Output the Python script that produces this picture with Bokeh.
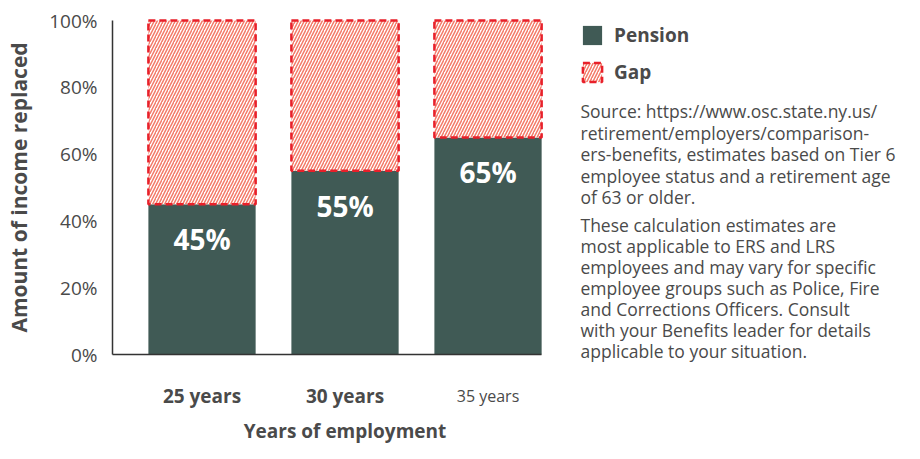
import math
from bokeh.plotting import figure
from bokeh.models import (Range1d, FixedTicker, Label, Legend, LegendItem,
                          ColumnDataSource, LinearAxis)
from bokeh.core.properties import value
from bokeh.embed import file_html
from bokeh.resources import INLINE

categories = ["25 years", "30 years", "35 years"]
pension = [45, 55, 65]
gap = [55, 45, 35]
y_ticks = [0, 20, 40, 60, 80, 100]
y_tick_labels = ["0%", "20%", "40%", "60%", "80%", "100%"]
series_names = ["Pension", "Gap"]
source_lines = [
    "Source: https://www.osc.state.ny.us/",
    "retirement/employers/comparison-",
    "ers-benefits, estimates based on Tier 6",
    "employee status and a retirement age",
    "of 63 or older.",
]
note_lines = [
    "These calculation estimates are",
    "most applicable to ERS and LRS",
    "employees and may vary for specific",
    "employee groups such as Police, Fire",
    "and Corrections Officers. Consult",
    "with your Benefits leader for details",
    "applicable to your situation.",
]
x_title = "Years of employment"
y_title = "Amount of income replaced"

FONT = "Open Sans"
DARK = "#405a55"
RED = "#e8202a"
HATCH = "#f47a68"
TXT = "#4a4a4a"

# layout (px); the frame covers the whole figure
FIG_W, FIG_H = 904, 443
PX_PER_CAT = 143
PX_PER_PCT = 3.34
AXIS_PX = 112          # x px of the y axis line
TOP_PX = 20            # y px of the 100% line
ZERO_PX = TOP_PX + 100 * PX_PER_PCT
X0 = -0.626            # data x of the y axis line
X_BAR_END = 2.374      # data x where the x axis line ends
X_START = X0 - AXIS_PX / PX_PER_CAT


def up(py):
    """px from the figure top -> screen y measured up from the bottom"""
    return FIG_H - py


xs = list(range(len(categories)))
tops = [a + b for a, b in zip(pension, gap)]
src = ColumnDataSource(dict(x=xs, pension=pension, top=tops,
                            label=[f"{v}%" for v in pension]))

p = figure(frame_width=FIG_W, frame_height=FIG_H,
           x_range=Range1d(X_START, X_START + FIG_W / PX_PER_CAT),
           y_range=Range1d(-(FIG_H - ZERO_PX) / PX_PER_PCT, 100 + TOP_PX / PX_PER_PCT),
           output_backend="svg", toolbar_location=None,
           min_border_left=0, min_border_top=0,
           min_border_right=0, min_border_bottom=0)
p.outline_line_color = None
p.grid.visible = False
p.background_fill_color = "white"
p.border_fill_color = "white"

r1 = p.vbar(x="x", bottom=0, top="pension", width=0.75, source=src,
            fill_color=DARK, line_color=None)
r2 = p.vbar(x="x", bottom="pension", top="top", width=0.75, source=src,
            fill_color="white", hatch_pattern="/", hatch_color=HATCH,
            hatch_scale=6, hatch_weight=1.5,
            line_color=RED, line_width=2.5, line_dash="7 4")

p.text(x="x", y="pension", text="label", source=src, text_align="center",
       text_baseline="middle", y_offset=35, text_color="white",
       text_font=value(FONT), text_font_size="28px", text_font_style="bold")

# y axis, drawn at x = X0
ya = p.yaxis[0]
ya.ticker = FixedTicker(ticks=y_ticks)
ya.major_label_overrides = {t: l for t, l in zip(y_ticks, y_tick_labels)}
ya.bounds = (0, 100)
ya.fixed_location = X0
ya.major_tick_in = 0
ya.major_tick_out = 0
ya.minor_tick_line_color = None
ya.axis_line_color = "#333333"
ya.axis_line_width = 1.5
ya.major_label_standoff = 15
ya.major_label_text_font = FONT
ya.major_label_text_font_size = "19px"
ya.major_label_text_color = TXT

p.add_layout(Label(x=18, y=up(TOP_PX + 50 * PX_PER_PCT), x_units="screen", y_units="screen",
                   text=y_title, angle=math.pi / 2, text_align="center",
                   text_baseline="middle", text_font=FONT, text_font_size="21px",
                   text_font_style="bold", text_color=TXT))

# x axis (bold labels), drawn at y = 0
xa = p.xaxis[0]
xa.ticker = FixedTicker(ticks=xs[:2])
xa.major_label_overrides = {x: c for x, c in zip(xs[:2], categories[:2])}
xa.bounds = (X0, X_BAR_END)
xa.fixed_location = 0
xa.major_tick_in = 0
xa.major_tick_out = 0
xa.minor_tick_line_color = None
xa.axis_line_color = "#333333"
xa.axis_line_width = 1.5
xa.major_label_standoff = 28
xa.major_label_text_font = FONT
xa.major_label_text_font_size = "19px"
xa.major_label_text_font_style = "bold"
xa.major_label_text_color = TXT

# third category label is set in a lighter style
xa2 = LinearAxis(ticker=FixedTicker(ticks=xs[2:]),
                 major_label_overrides={xs[2]: categories[2]},
                 fixed_location=0,
                 axis_line_color=None, major_tick_in=0, major_tick_out=0,
                 minor_tick_line_color=None, major_label_standoff=30,
                 major_label_text_font=FONT, major_label_text_font_size="16px",
                 major_label_text_color=TXT)
p.add_layout(xa2, "below")

p.add_layout(Label(x=xs[1], y=up(430), x_units="data", y_units="screen",
                   text=x_title, text_align="center", text_baseline="middle",
                   text_font=FONT, text_font_size="19px", text_font_style="bold",
                   text_color=TXT))

LEG_X = 580
legend = Legend(items=[LegendItem(label=series_names[0], renderers=[r1]),
                       LegendItem(label=series_names[1], renderers=[r2])],
                location=(LEG_X, 358), glyph_width=24, glyph_height=24,
                spacing=11, padding=0, margin=0, border_line_color=None,
                background_fill_alpha=0, label_standoff=10,
                label_text_font=FONT, label_text_font_size="19px",
                label_text_font_style="bold", label_text_color=TXT)
p.add_layout(legend)

for i, line in enumerate(source_lines):
    p.add_layout(Label(x=LEG_X, y=up(110.5 + 21.6 * i),
                       x_units="screen", y_units="screen",
                       text=line, text_baseline="middle", text_font=FONT,
                       text_font_size="17.5px", text_color=TXT))
for i, line in enumerate(note_lines):
    p.add_layout(Label(x=LEG_X, y=up(224 + 21.1 * i),
                       x_units="screen", y_units="screen",
                       text=line, text_baseline="middle", text_font=FONT,
                       text_font_size="17.5px", text_color=TXT))

open("out.html", "w").write(file_html(p, INLINE))
